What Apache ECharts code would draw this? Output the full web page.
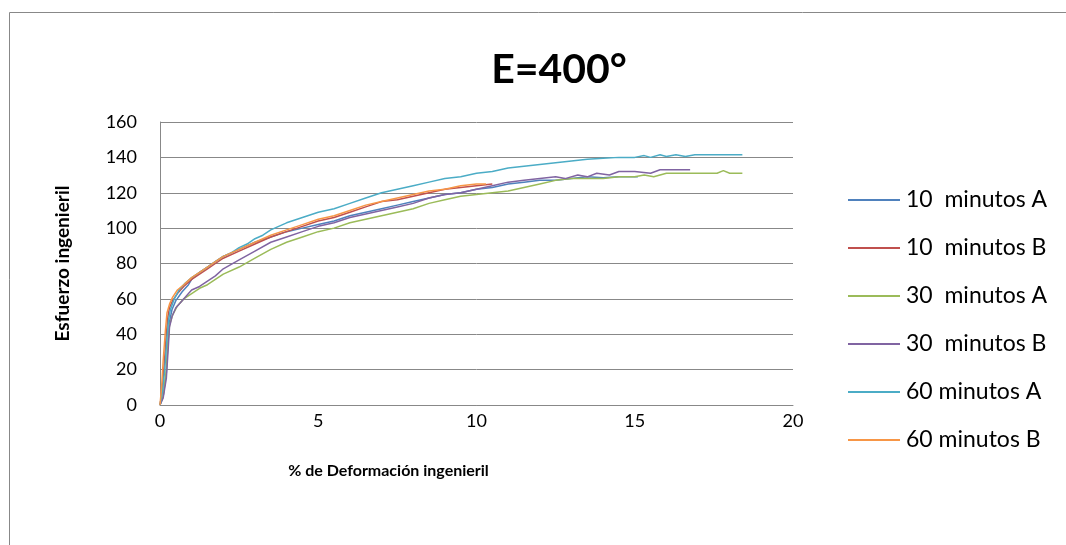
<!DOCTYPE html>
<html>
<head>
<meta charset="utf-8">
<script src="https://cdn.jsdelivr.net/npm/echarts@6/dist/echarts.min.js"></script>
<style>html,body{margin:0;padding:0;background:#fff}#c{width:1066px;height:545px}</style>
</head>
<body>
<div id="c"></div>
<script>
const seriesNames = ['10  minutos A','10  minutos B','30  minutos A','30  minutos B','60 minutos A','60 minutos B'];
const seriesColors = ['#4F81BD','#C0504D','#9BBB59','#8064A2','#4BACC6','#F79646'];
const xTicks = [0,5,10,15,20];
const yTicks = [0,20,40,60,80,100,120,140,160];

const min10A = [[0,0],[0.1,5],[0.2,18],[0.25,35],[0.3,47],[0.38,54],[0.5,59],[0.7,64],[0.9,68],[1.0,71],[1.25,75],[1.5,78],[1.75,81],[2.0,84],[2.5,88],[3.0,92],[3.5,95],[4.0,98],[4.5,100],[5.0,102],[5.5,104],[6.0,107],[6.5,109],[7.0,111],[7.5,113],[8.0,115],[8.5,117],[9.0,119],[9.5,120],[10.0,122],[10.5,123],[11.0,125],[11.5,126],[12.0,127],[12.5,127],[13.0,128],[13.5,129],[14.0,128.5],[14.5,129],[15.1,129]];
const min10B = [[0,0],[0.07,8],[0.13,22],[0.2,40],[0.25,50],[0.3,55],[0.4,59],[0.55,63],[0.75,67],[1.0,71],[1.25,74],[1.5,77],[1.75,80],[2.0,83],[2.5,87],[3.0,91],[3.5,95],[4.0,98],[4.5,101],[5.0,104],[5.5,106],[6.0,109],[6.5,112],[7.0,115],[7.5,116],[8.0,118],[8.5,120],[9.0,122],[9.5,123],[10.0,124],[10.5,125]];
const min30A = [[0,0],[0.1,5],[0.2,20],[0.25,35],[0.3,45],[0.4,51],[0.55,56],[0.75,60],[1.0,63],[1.25,66],[1.5,68],[1.75,71],[2.0,74],[2.5,78],[3.0,83],[3.5,88],[4.0,92],[4.5,95],[5.0,98],[5.5,100],[6.0,103],[6.5,105],[7.0,107],[7.5,109],[8.0,111],[8.5,114],[9.0,116],[9.5,118],[10.0,119],[10.5,120],[11.0,121],[11.5,123],[12.0,125],[12.5,127],[13.0,128],[13.5,128],[14.0,128],[14.5,129],[15.0,129],[15.3,130],[15.6,129],[16.0,131],[17.0,131],[17.6,131],[17.8,132.5],[18.0,131],[18.4,131]];
const min30B = [[0,0],[0.1,4],[0.2,15],[0.26,32],[0.3,44],[0.38,50],[0.5,55],[0.7,59],[0.9,63],[1.0,65],[1.25,67],[1.5,70],[1.75,73],[2.0,77],[2.5,82],[3.0,87],[3.5,92],[4.0,95],[4.5,98],[5.0,101],[5.5,103],[6.0,106],[6.5,108],[7.0,110],[7.5,112],[8.0,114],[8.5,117],[9.0,119],[9.5,120],[10.0,122],[10.5,124],[11.0,126],[11.5,127],[12.0,128],[12.5,129],[12.8,128],[13.2,130],[13.5,129],[13.8,131],[14.2,130],[14.5,132],[15,132],[15.5,131],[15.8,133],[16.2,133],[16.75,133]];
const min60A = [[0,0],[0.08,8],[0.15,20],[0.22,38],[0.27,48],[0.33,54],[0.45,60],[0.6,65],[0.8,69],[1.0,72],[1.25,75],[1.5,78],[1.75,81],[2.0,84],[2.25,86],[2.5,89],[2.75,91],[3.0,94],[3.25,96],[3.5,99],[3.75,101],[4.0,103],[4.5,106],[5.0,109],[5.5,111],[6.0,114],[6.5,117],[7.0,120],[7.5,122],[8.0,124],[8.5,126],[9.0,128],[9.5,129],[10.0,131],[10.5,132],[11.0,134],[11.5,135],[12.0,136],[12.5,137],[13.0,138],[13.5,139],[14,139.5],[14.5,140],[15,140],[15.3,141],[15.5,140],[15.8,141.5],[16,140.5],[16.3,141.5],[16.6,140.5],[16.9,141.5],[17.5,141.5],[18,141.5],[18.4,141.5]];
const min60B = [[0,0],[0.05,10],[0.1,25],[0.17,42],[0.22,52],[0.3,57],[0.4,61],[0.55,65],[0.75,68],[1.0,72],[1.25,75],[1.5,78],[1.75,81],[2.0,84],[2.5,88],[3.0,92],[3.5,96],[4.0,99],[4.5,102],[5.0,105],[5.5,107],[6.0,110],[6.5,113],[7.0,115],[7.5,117],[8.0,119],[8.5,121],[9.0,122],[9.5,124],[10.0,125],[10.3,125]];

const allData = [min10A, min10B, min30A, min30B, min60A, min60B];
const FONT = 'Lato';

const chart = echarts.init(document.getElementById('c'));
chart.setOption({
  animation: false,
  backgroundColor: '#fff',
  title: {
    text: 'E=400°',
    left: 554, top: 44, textAlign: 'center',
    textStyle: {fontFamily: FONT, fontWeight: 'bold', fontSize: 41, color: '#000'}
  },
  graphic: [{
    type: 'rect', left: 7, top: 10, shape: {width: 1100, height: 600},
    style: {fill: 'none', stroke: '#888', lineWidth: 1}, silent: true
  }],
  legend: {
    orient: 'vertical', left: 843, top: 183,
    itemGap: 24, itemWidth: 52, itemHeight: 2, icon: 'rect',
    textStyle: {fontFamily: FONT, fontSize: 23, color: '#000', lineHeight: 24, padding: [0,0,0,1]},
    data: seriesNames
  },
  grid: {left: 160, right: 273, top: 122, bottom: 140, containLabel: false},
  xAxis: {
    type: 'value', min: xTicks[0], max: xTicks[xTicks.length-1], interval: 5,
    name: '% de Deformación ingenieril', nameLocation: 'middle', nameGap: 58,
    nameTextStyle: {fontFamily: FONT, fontWeight: 'bold', fontSize: 16, color: '#000', padding: [0,176,0,0]},
    axisLine: {show: true, lineStyle: {color: '#888', width: 1}},
    axisTick: {show: false},
    splitLine: {show: false},
    axisLabel: {fontFamily: FONT, fontSize: 18, color: '#000', margin: 7}
  },
  yAxis: {
    type: 'value', min: yTicks[0], max: yTicks[yTicks.length-1], interval: 20,
    name: 'Esfuerzo ingenieril', nameLocation: 'middle', nameGap: 88, nameRotate: 90,
    nameTextStyle: {fontFamily: FONT, fontWeight: 'bold', fontSize: 19, color: '#000'},
    axisLine: {show: true, lineStyle: {color: '#888', width: 1}},
    axisTick: {show: false},
    splitLine: {show: true, lineStyle: {color: '#888', width: 1}},
    axisLabel: {fontFamily: FONT, fontSize: 18, color: '#000', margin: 23}
  },
  series: seriesNames.map((n, i) => ({
    name: n, type: 'line', data: allData[i], symbol: 'none', showSymbol: false,
    lineStyle: {color: seriesColors[i], width: 1.5}, itemStyle: {color: seriesColors[i]}
  }))
});
</script>
</body>
</html>
